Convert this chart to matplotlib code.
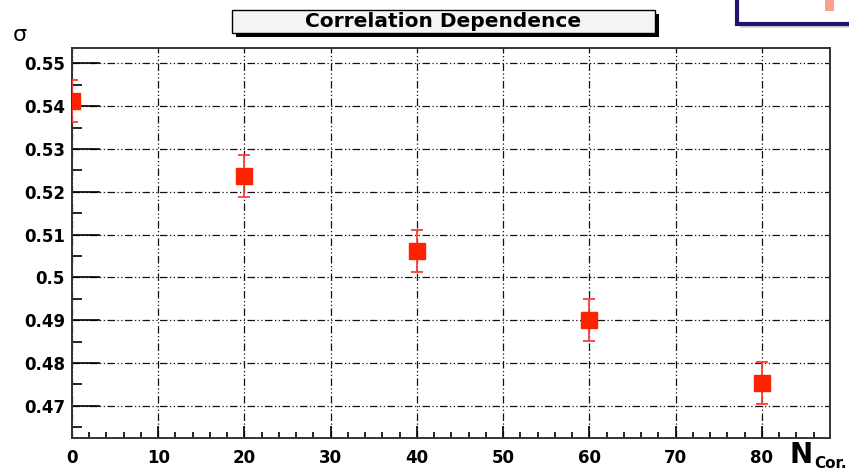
import matplotlib
matplotlib.use("Agg")
import matplotlib.pyplot as plt
from matplotlib.patches import Rectangle
from matplotlib.ticker import MultipleLocator, FuncFormatter

# values
n_corr = [0, 20, 40, 60, 80]
sigma = [0.5411, 0.5236, 0.5061, 0.4900, 0.4753]
sigma_err = [0.0049, 0.0049, 0.0049, 0.0049, 0.0049]
title = "Correlation Dependence"

plt.rcParams['font.family'] = ['DejaVu Sans']
plt.rcParams['font.weight'] = 'bold'

W, H = 849, 471
fig = plt.figure(figsize=(W / 100, H / 100), dpi=100)
ax = fig.add_axes([72 / W, 1 - 437.5 / H, (830 - 72) / W, (437.5 - 47.5) / H])

ax.errorbar(n_corr, sigma, yerr=sigma_err, fmt='s', color='#ff2200', ecolor='#f5413a',
            markersize=11, capsize=4, elinewidth=1.3, capthick=1.3, zorder=5)

ax.set_xlim(0, 87.9)
ax.set_ylim(0.4626, 0.5537)
ax.xaxis.set_major_locator(MultipleLocator(10))
ax.xaxis.set_minor_locator(MultipleLocator(2))
ax.yaxis.set_major_locator(MultipleLocator(0.01))
ax.yaxis.set_minor_locator(MultipleLocator(0.005))
ax.set_xticks(range(0, 81, 10))

ax.grid(True, which='major', color='#111111', linewidth=0.9, linestyle=(0, (6, 2, 1, 2, 1, 2)))
ax.tick_params(axis='y', which='major', direction='in', length=20, width=1.2, labelsize=12, pad=5)
ax.tick_params(axis='y', which='minor', direction='in', length=7, width=1.2)
ax.tick_params(axis='x', which='major', direction='in', length=9, width=1.2, labelsize=12, pad=8)
ax.tick_params(axis='x', which='minor', direction='in', length=4.5, width=1.2)


def fmt(v, pos):
    s = "%.3f" % v
    return s.rstrip('0').rstrip('.')


ax.yaxis.set_major_formatter(FuncFormatter(fmt))
for lab in ax.get_xticklabels() + ax.get_yticklabels():
    lab.set_fontweight('bold')

for sp in ax.spines.values():
    sp.set_color('#333333')
    sp.set_linewidth(1.4)

# axis titles
fig.text(20 / W, 1 - 35 / H, "σ", fontsize=16, fontweight='normal', ha='center', va='center')
fig.text(801 / W, 1 - 455 / H, "N", fontsize=20, fontweight='bold', ha='center', va='center')
fig.text(847 / W, 1 - 463 / H, "Cor.", fontsize=11, fontweight='bold', ha='right', va='center')

# title box with shadow
tb_x0, tb_x1, tb_y0, tb_y1 = 232, 655, 10, 33
fig.patches.append(Rectangle(((tb_x0 + 4) / W, 1 - (tb_y1 + 4) / H), (tb_x1 - tb_x0) / W,
                             (tb_y1 - tb_y0) / H, transform=fig.transFigure,
                             facecolor='black', edgecolor='none', zorder=1))
fig.patches.append(Rectangle((tb_x0 / W, 1 - tb_y1 / H), (tb_x1 - tb_x0) / W,
                             (tb_y1 - tb_y0) / H, transform=fig.transFigure,
                             facecolor='#f4f4f4', edgecolor='black', linewidth=1, zorder=2))
fig.text((tb_x0 + tb_x1) / 2 / W, 1 - (tb_y0 + tb_y1) / 2 / H, title, fontsize=14.5,
         fontweight='bold', ha='center', va='center', zorder=3)

# partial legend box in the corner
fig.patches.append(Rectangle((740 / W, 1 - 28 / H), 130 / W, 40 / H, transform=fig.transFigure,
                             facecolor='#bbbbbb', edgecolor='none', alpha=0.6, zorder=1))
fig.patches.append(Rectangle((737 / W, 1 - 24 / H), 130 / W, 40 / H, transform=fig.transFigure,
                             facecolor='white', edgecolor='#26106e', linewidth=3, zorder=2))
fig.patches.append(Rectangle((825 / W, 1 - 11 / H), 9 / W, 12 / H, transform=fig.transFigure,
                             facecolor='#ffa08a', edgecolor='none', zorder=3))

fig.savefig("out.png", dpi=100)
